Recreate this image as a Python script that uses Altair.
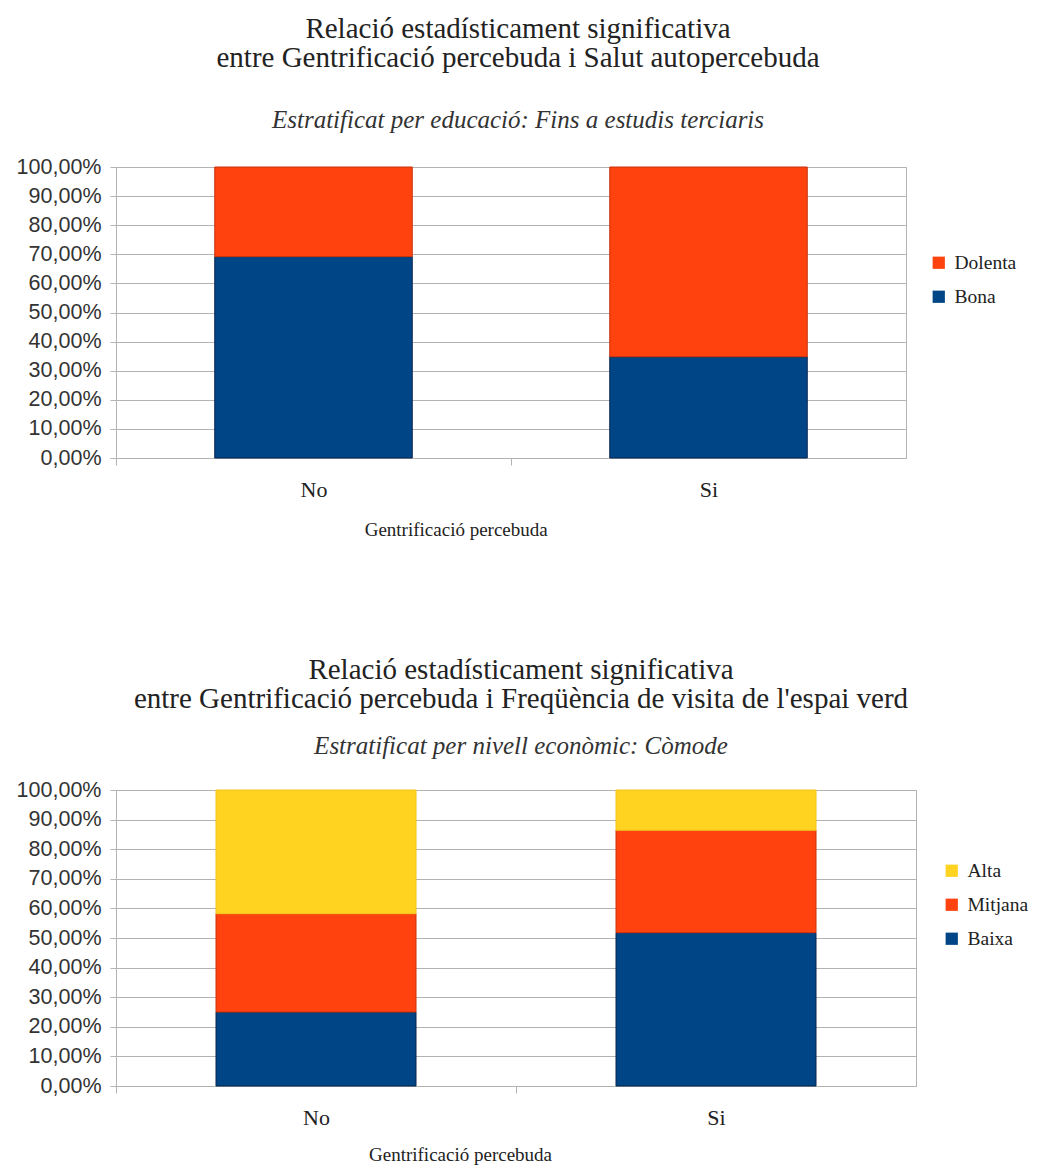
import altair as alt
import pandas as pd

# ---- data ----
categories = ["No", "Si"]

# chart 1: Salut autopercebuda
salut_series = ["Bona", "Dolenta"]
bona = [69.2, 34.8]
dolenta = [30.8, 65.2]

# chart 2: Freqüència de visita
freq_series = ["Baixa", "Mitjana", "Alta"]
baixa = [25.0, 51.8]
mitjana = [33.2, 34.6]
alta = [41.8, 13.6]

title1 = ["Relació estadísticament significativa",
          "entre Gentrificació percebuda i Salut autopercebuda"]
subtitle1 = "Estratificat per educació: Fins a estudis terciaris"
title2 = ["Relació estadísticament significativa",
          "entre Gentrificació percebuda i Freqüència de visita de l'espai verd"]
subtitle2 = "Estratificat per nivell econòmic: Còmode"
x_title = "Gentrificació percebuda"

BLUE, ORANGE, YELLOW = "#004586", "#ff420e", "#ffd320"
BLUE_E, ORANGE_E, YELLOW_E = "#0a2550", "#c8330c", "#f2c41c"

rows1 = []
for i, c in enumerate(categories):
    rows1.append({"cat": c, "serie": "Bona", "val": bona[i], "ord": 0})
    rows1.append({"cat": c, "serie": "Dolenta", "val": dolenta[i], "ord": 1})
df1 = pd.DataFrame(rows1)

rows2 = []
for i, c in enumerate(categories):
    rows2.append({"cat": c, "serie": "Baixa", "val": baixa[i], "ord": 0})
    rows2.append({"cat": c, "serie": "Mitjana", "val": mitjana[i], "ord": 1})
    rows2.append({"cat": c, "serie": "Alta", "val": alta[i], "ord": 2})
df2 = pd.DataFrame(rows2)

GRID = "#b3b3b3"
label_expr = "replace(format(datum.value, '.2f'), '.', ',') + '%'"


def make_chart(df, width, height, titles, subtitle, dom, rng, edge, legx, legy, dx,
               subpad, offset, ttl_y):
    step = width / 2.0
    x = alt.X(
        "cat:N", sort=categories,
        scale=alt.Scale(paddingInner=0.5, paddingOuter=0.25),
        axis=alt.Axis(
            title=x_title, labelAngle=0, grid=False,
            tickOffset=-step / 2.0, labelOffset=step / 2.0,
            tickSize=7, tickColor=GRID, domainColor=GRID,
            labelFont="Liberation Serif", labelFontSize=22, labelColor="#222",
            labelPadding=14,
            titleFont="Liberation Serif", titleFontSize=19, titleFontWeight="normal",
            titleColor="#222", titleX=width * 0.43, titleY=ttl_y, titleBaseline="middle",
            titleAlign="center",
        ),
    )
    y = alt.Y(
        "val:Q", stack="zero",
        scale=alt.Scale(domain=[0, 100], nice=False),
        axis=alt.Axis(
            title=None, values=list(range(0, 101, 10)), labelExpr=label_expr,
            gridColor=GRID, tickColor=GRID, domainColor=GRID, tickSize=6,
            labelFont="Liberation Sans", labelFontSize=21.5, labelColor="#333",
            labelPadding=9,
        ),
    )
    chart = alt.Chart(df).mark_bar(strokeWidth=1).encode(
        x=x,
        y=y,
        color=alt.Color(
            "serie:N", scale=alt.Scale(domain=dom, range=rng),
            legend=alt.Legend(
                title=None, orient="none", legendX=legx, legendY=legy,
                symbolType="square", symbolSize=150, symbolStrokeWidth=0,
                labelFont="Liberation Serif", labelFontSize=19.5, labelColor="#222",
                rowPadding=13, padding=0, labelOffset=6,
            ),
        ),
        stroke=alt.Stroke("serie:N", scale=alt.Scale(domain=dom, range=edge), legend=None),
        order=alt.Order("ord:Q", sort="ascending"),
    ).properties(
        width=width, height=height,
        title=alt.TitleParams(
            text=titles, subtitle=subtitle,
            font="Liberation Serif", fontSize=29, fontWeight="normal", color="#222",
            lineHeight=29,
            subtitleFont="Liberation Serif", subtitleFontSize=25,
            subtitleFontStyle="italic", subtitleColor="#333",
            subtitlePadding=subpad, offset=offset, anchor="middle", frame="group", dx=dx,
        ),
    )
    return chart


c1 = make_chart(df1, 790, 291, title1, subtitle1,
                ["Dolenta", "Bona"], [ORANGE, BLUE], [ORANGE_E, BLUE_E],
                813, 86, 7, 35, 23, 71)
c2 = make_chart(df2, 800, 296, title2, subtitle2,
                ["Alta", "Mitjana", "Baixa"], [YELLOW, ORANGE, BLUE],
                [YELLOW_E, ORANGE_E, BLUE_E],
                826, 71, 5, 20, 20, 68)

chart = alt.vconcat(c1, c2, spacing=115).resolve_scale(
    color="independent", stroke="independent"
).properties(
    padding={"left": 7, "top": 6, "right": 0, "bottom": 0}
).configure_view(
    stroke=GRID
)

chart.save("out.html", embed_options={"renderer": "svg", "actions": False})
